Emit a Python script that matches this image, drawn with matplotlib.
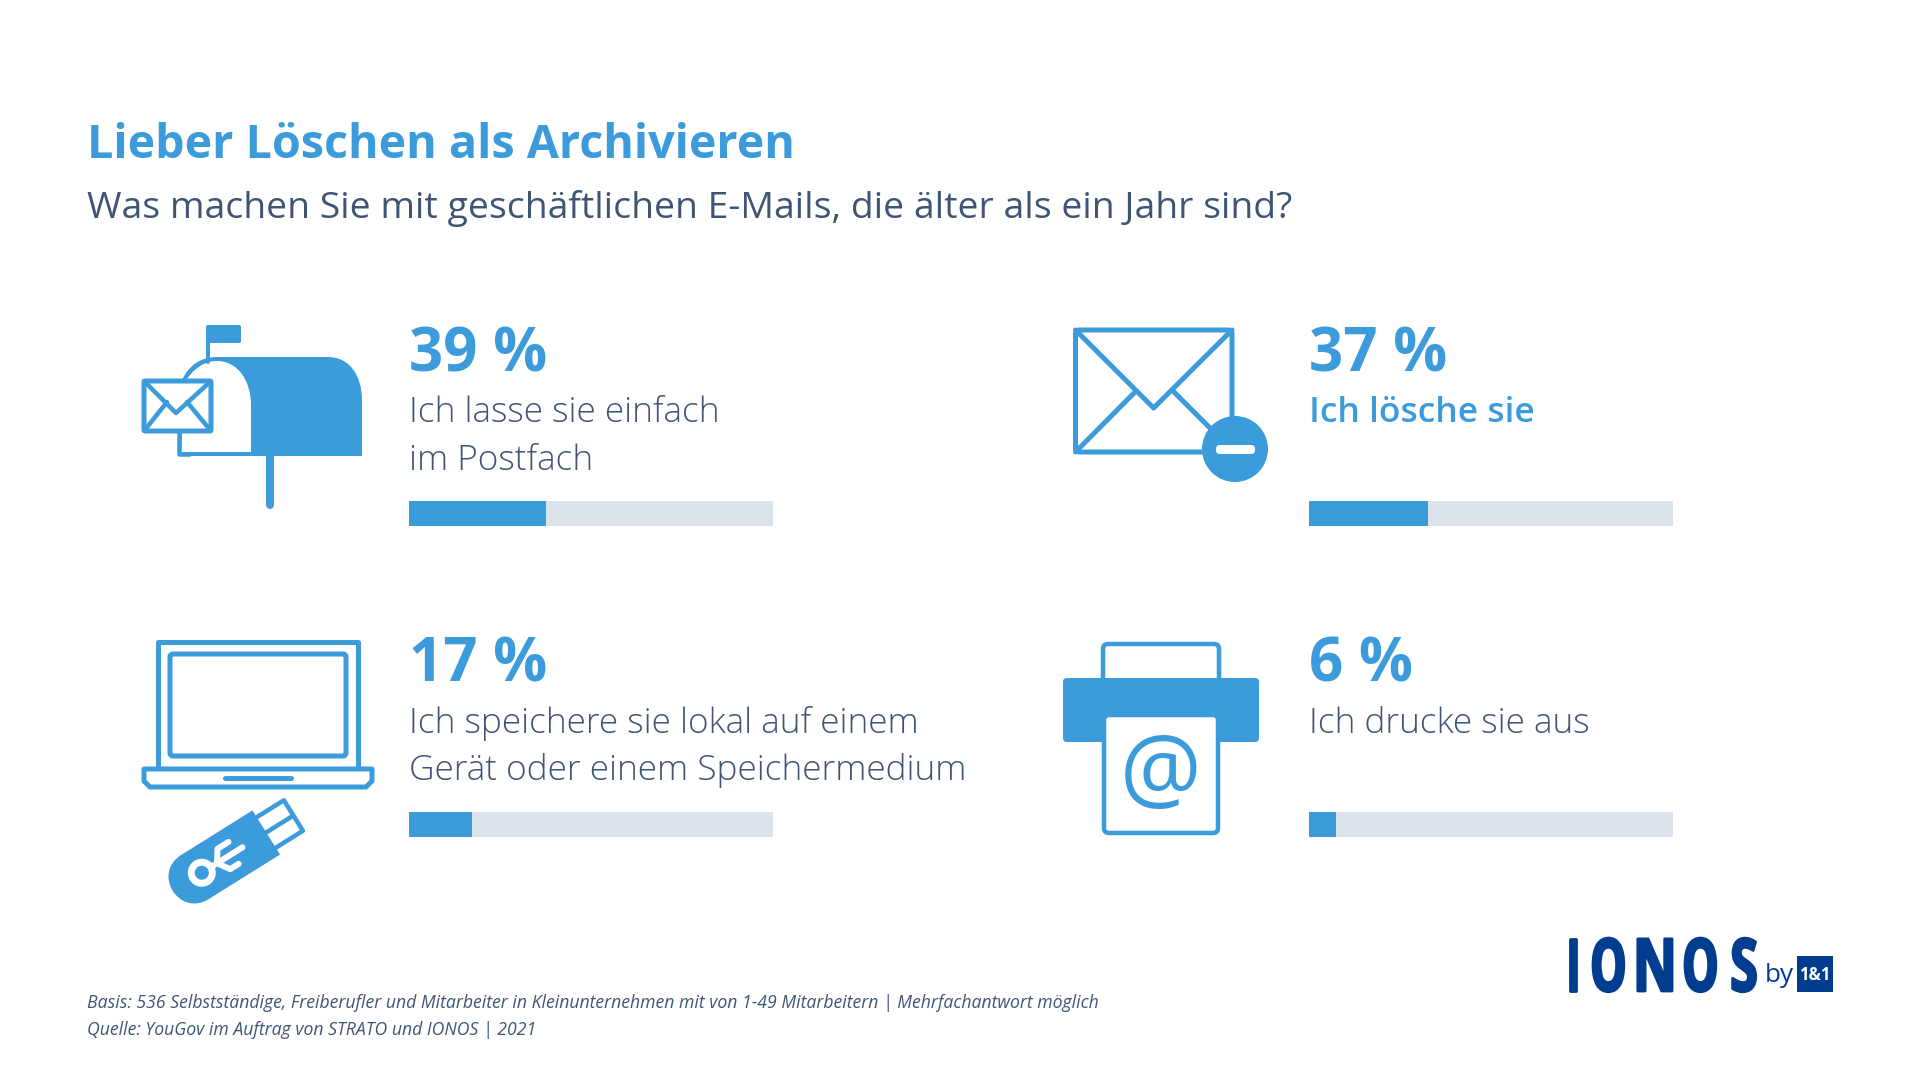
import matplotlib
matplotlib.use("Agg")
import matplotlib.pyplot as plt
from matplotlib.path import Path
from matplotlib.patches import PathPatch, Rectangle, Circle, FancyBboxPatch
from matplotlib.patheffects import AbstractPathEffect
from matplotlib.transforms import Affine2D

W, H = 1920, 1080
BLUE = "#3b9bdb"
TRACK = "#dde3ea"
TEXT = "#405575"
NAVY = "#003d8f"

percent_labels = ["39 %", "37 %", "17 %", "6 %"]
answers = ["Ich lasse sie einfach\nim Postfach", "Ich lösche sie",
           "Ich speichere sie lokal auf einem\nGerät oder einem Speichermedium", "Ich drucke sie aus"]
bar_values = [37.5, 32.7, 17.2, 7.4]
bar_total = 100
title = "Lieber Löschen als Archivieren"
subtitle = "Was machen Sie mit geschäftlichen E-Mails, die älter als ein Jahr sind?"
footnotes = ["Basis: 536 Selbstständige, Freiberufler und Mitarbeiter in Kleinunternehmen mit von 1-49 Mitarbeitern | Mehrfachantwort möglich",
             "Quelle: YouGov im Auftrag von STRATO und IONOS | 2021"]

fig = plt.figure(figsize=(W / 100, H / 100), dpi=100, facecolor="white")
ax = fig.add_axes([0, 0, 1, 1])
ax.set_xlim(0, W)
ax.set_ylim(H, 0)
ax.axis("off")
FONT = "Open Sans"


class Squeeze(AbstractPathEffect):
    """Scales text about its anchor point and thickens it a little."""

    def __init__(self, cx, cy, sx, sy, lw):
        super().__init__()
        self.cx, self.cy, self.sx, self.sy, self.lw = cx, cy, sx, sy, lw

    def draw_path(self, renderer, gc, tpath, affine, rgbFace):
        aff = affine + Affine2D().translate(-self.cx, -self.cy).scale(self.sx, self.sy).translate(self.cx, self.cy)
        gc0 = renderer.new_gc()
        gc0.copy_properties(gc)
        gc0.set_linewidth(self.lw)
        gc0.set_foreground(rgbFace)
        renderer.draw_path(gc0, tpath, aff, rgbFace)
        gc0.restore()


def px(p):
    return p * 0.72


def txt(x, y, s, size, color=TEXT, weight="normal", style="normal", family=FONT, ha="left", va="baseline", **kw):
    return ax.text(x, y, s, fontsize=px(size), color=color, weight=weight, style=style,
                   family=family, ha=ha, va=va, **kw)


def line(xs, ys, lw=4.5, color=BLUE, cap="round", z=3, tr=None):
    l, = ax.plot(xs, ys, color=color, lw=px(lw), solid_capstyle=cap, solid_joinstyle="round", zorder=z)
    if tr is not None:
        l.set_transform(tr + ax.transData)
    return l


def box(x0, y0, x1, y1, fc="none", ec=BLUE, lw=4.5, r=3, z=3):
    p = FancyBboxPatch((x0, y0), x1 - x0, y1 - y0, boxstyle=f"round,pad=0,rounding_size={r}",
                       fc=fc, ec=ec, lw=px(lw), zorder=z)
    ax.add_patch(p)
    return p


# Header
txt(87, 158, title, 46.6, color=BLUE, weight="bold")
txt(87, 218, subtitle, 37.4, color=TEXT)

# Panels
col_x = [409, 1309]
bar_y = [501, 812]
bar_w, bar_h = 364, 25
text_base = [371, 682]
label_base = [422, 733]
for i, (pct, ans, val) in enumerate(zip(percent_labels, answers, bar_values)):
    cx = col_x[i % 2]
    row = i // 2
    txt(cx, text_base[row], pct, 60, color=BLUE, weight="bold")
    lines = ans.split("\n")
    for j, t in enumerate(lines):
        if i == 1:
            txt(cx, label_base[row] + 47.5 * j, t, 35.4, color=BLUE, weight="semibold")
        else:
            txt(cx, label_base[row] + 47.5 * j, t, 35.2, color=TEXT, weight="light")
    bax = fig.add_axes([cx / W, 1 - (bar_y[row] + bar_h) / H, bar_w / W, bar_h / H])
    bax.barh([0], [bar_total], height=1, color=TRACK)
    bax.barh([0], [val], height=1, color=BLUE)
    bax.set_xlim(0, bar_total)
    bax.set_ylim(-0.5, 0.5)
    bax.axis("off")

# Mailbox icon
line([208, 208], [330, 362], lw=4)
box(206, 325, 241, 343, fc=BLUE, ec=BLUE, lw=0, r=2)
body = Path([(182, 380), (189, 365), (201, 357), (217, 357), (328, 357), (349, 357), (362, 375), (362, 400),
             (362, 456), (177, 456), (182, 380)],
            [Path.MOVETO, Path.CURVE4, Path.CURVE4, Path.CURVE4, Path.LINETO, Path.CURVE4, Path.CURVE4, Path.CURVE4,
             Path.LINETO, Path.LINETO, Path.CLOSEPOLY])
ax.add_patch(PathPatch(body, fc=BLUE, ec="none", zorder=2))
door = Path([(185, 382), (193, 369), (204, 361), (217, 361), (237, 361), (251, 380), (251, 405),
             (251, 452), (181, 452), (185, 382)],
            [Path.MOVETO, Path.CURVE4, Path.CURVE4, Path.CURVE4, Path.CURVE4, Path.CURVE4, Path.CURVE4,
             Path.LINETO, Path.LINETO, Path.CLOSEPOLY])
ax.add_patch(PathPatch(door, fc="white", ec="none", zorder=2.5))
ax.add_patch(Rectangle((169, 380), 12, 90, fc="white", ec="none", zorder=2.6))
line([179, 179, 189], [430, 454, 454], lw=4.5, z=2.7)
box(144, 381, 211, 431, fc="white", lw=5, r=2, z=3)
line([144, 176, 211], [381, 413, 381], lw=4.5, z=3.1)
line([144, 167], [431, 402], lw=4.5, z=3.1)
line([211, 187], [431, 402], lw=4.5, z=3.1)
line([270, 270], [456, 505], lw=8)

# Envelope icon
box(1075.5, 330, 1232, 452, fc="white", lw=5, r=4)
line([1075.5, 1153.6, 1232], [330, 408, 330], lw=5)
line([1075.5, 1135], [452, 392], lw=5)
line([1174, 1214], [392, 432], lw=5)
ax.add_patch(Circle((1235, 449), 33, fc=BLUE, ec="none", zorder=4))
box(1216, 445, 1255, 454, fc="white", ec="none", lw=0, r=4, z=5)

# Laptop icon
line([158, 158, 358, 358], [767, 642, 642, 767], lw=5)
box(170, 654, 346, 756, lw=5, r=3)
base = Path([(144, 769), (372, 769), (372, 781), (366, 787), (150, 787), (144, 781), (144, 769)],
            [Path.MOVETO, Path.LINETO, Path.LINETO, Path.LINETO, Path.LINETO, Path.LINETO, Path.CLOSEPOLY])
ax.add_patch(PathPatch(base, fc="white", ec=BLUE, lw=px(5), joinstyle="round", zorder=3))
line([225, 291], [777.5, 777.5], lw=5)

# USB stick icon
t = Affine2D().rotate_deg(-32).translate(195, 877)
body_usb = Path([(0, -26), (84, -26), (84, 26), (0, 26), (-35, 26), (-35, -26), (0, -26)],
                [Path.MOVETO, Path.LINETO, Path.LINETO, Path.LINETO, Path.CURVE4, Path.CURVE4, Path.CURVE4])
ax.add_patch(PathPatch(body_usb, fc=BLUE, ec="none", zorder=3, transform=t + ax.transData))
line([84, 116, 116, 84], [-18, -18, 18, 18], lw=4.5, tr=t)
line([84, 116], [0, 0], lw=4.5, tr=t)
ax.add_patch(Circle((8, 0), 14, fc="white", ec="none", zorder=4, transform=t + ax.transData))
ax.add_patch(Circle((8, 0), 7, fc=BLUE, ec="none", zorder=5, transform=t + ax.transData))
line([18, 56], [0, 0], lw=6, color="white", z=4, tr=t)
line([26, 34, 47], [0, -12, -12], lw=6, color="white", z=4, tr=t)
line([26, 34, 44], [0, 12, 12], lw=6, color="white", z=4, tr=t)

# Printer icon
box(1103, 644, 1219, 690, fc="white", lw=4.5, r=5)
box(1063, 678, 1259, 742, fc=BLUE, ec="none", lw=0, r=4, z=4)
box(1104, 715, 1218, 833, fc="white", lw=4.5, r=5, z=5)
ax.add_patch(Rectangle((1106.5, 705), 109, 12, fc=BLUE, ec="none", zorder=5.5))
txt(1161, 777, "@", 91, color=BLUE, weight="normal", ha="center", va="center", zorder=6)

# Logo
letters = "IONOS"
letter_x = [1573, 1608.5, 1655, 1700.5, 1744]
letter_sx = [0.62, 0.62, 0.74, 0.62, 0.68]
LOGO_SIZE = 40
LOGO_SCALE = 73 / LOGO_SIZE
for ch, lx, sx in zip(letters, letter_x, letter_sx):
    tx = txt(lx, 991, ch, LOGO_SIZE, color=NAVY, weight="bold",
             family=["Liberation Sans Narrow", "Open Sans"], ha="center")
    tx.set_path_effects([Squeeze(lx, H - 991, sx * LOGO_SCALE, LOGO_SCALE, 2.0)])
txt(1765, 982, "by", 26, color=NAVY)
ax.add_patch(Rectangle((1797, 956), 36, 36, fc=NAVY, ec="none", zorder=3))
txt(1815, 980, "1&1", 16.5, color="white", weight="bold", ha="center", zorder=4)

# Footnotes
for fn, y in zip(footnotes, [1008, 1035]):
    txt(87, y, fn, 17.6, color=TEXT, style="italic", weight="normal")

fig.savefig("out.png", dpi=100, facecolor="white")
